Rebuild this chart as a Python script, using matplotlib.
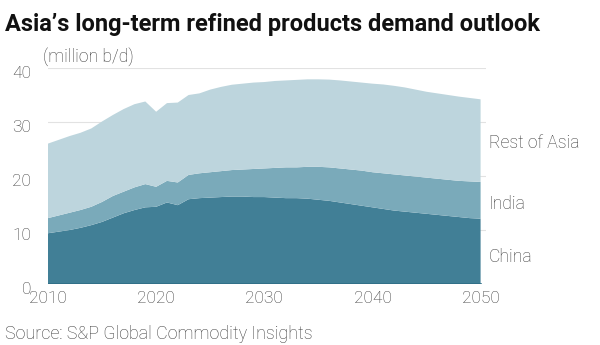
import matplotlib
matplotlib.use("Agg")
import matplotlib.pyplot as plt
import matplotlib.transforms as mtrans

years = list(range(2010, 2051))
china = [9.4, 9.7, 10.0, 10.4, 10.9, 11.5, 12.3, 13.1, 13.7, 14.2,
         14.3, 15.1, 14.6, 15.7, 15.9,
         16.0, 16.1, 16.2, 16.2, 16.1, 16.1, 16.0, 15.9, 15.9, 15.8,
         15.6, 15.4, 15.1, 14.8, 14.5, 14.2, 13.9, 13.6, 13.4, 13.2,
         13.0, 12.8, 12.6, 12.4, 12.2, 12.1]
india = [2.8, 3.0, 3.2, 3.3, 3.4, 3.7, 4.0, 4.0, 4.2, 4.3,
         3.7, 4.0, 4.2, 4.5, 4.6,
         4.7, 4.8, 4.9, 5.0, 5.2, 5.3, 5.5, 5.7, 5.7, 5.9,
         6.1, 6.2, 6.3, 6.4, 6.5, 6.5, 6.6, 6.7, 6.7, 6.7,
         6.7, 6.7, 6.7, 6.7, 6.8, 6.8]
rest_of_asia = [13.8, 14.0, 14.2, 14.3, 14.5, 14.9, 15.0, 15.3, 15.4, 15.3,
                13.9, 14.4, 14.8, 14.8, 14.8,
                15.3, 15.6, 15.8, 15.9, 16.0, 16.0, 16.1, 16.1, 16.2, 16.2,
                16.2, 16.25, 16.3, 16.3, 16.3, 16.4, 16.45, 16.4, 16.3, 16.1,
                15.9, 15.8, 15.7, 15.6, 15.45, 15.3]
series_names = ["China", "India", "Rest of Asia"]
x_ticks = [2010, 2020, 2030, 2040, 2050]
y_ticks = [0, 10, 20, 30, 40]

colors = ["#417f96", "#7aaaba", "#bdd5dd"]
txt = "#3a3a3a"
font = "Roboto"

fig = plt.figure(figsize=(6, 3.45), dpi=100)
ax = fig.add_axes([48 / 600, 1 - 284 / 345, (486 - 48) / 600, (284 - 68) / 345])

ax.stackplot(years, china, india, rest_of_asia, colors=colors, linewidth=0)
ax.axhline(0, color="#2e6e86", lw=1.2, xmax=(2050 - 2010) / (2050.5 - 2010), zorder=3)

ax.set_xlim(2010, 2050.5)
ax.set_ylim(0, 40)
ax.set_yticks(y_ticks)
ax.set_xticks(x_ticks)
for y in y_ticks[1:]:
    ax.axhline(y, color="#e2e2e2", lw=0.8, zorder=0)

for s in ax.spines.values():
    s.set_visible(False)
ax.tick_params(length=0, colors=txt, labelsize=12.5)
ax.tick_params(axis="x", pad=5)
ax.tick_params(axis="y", pad=12)
for lab in ax.get_xticklabels() + ax.get_yticklabels():
    lab.set_fontfamily(font)
    lab.set_fontweight("light")
offset = mtrans.ScaledTranslation(0, -3 / 72, fig.dpi_scale_trans)
for lab in ax.get_yticklabels():
    lab.set_transform(lab.get_transform() + offset)

# series labels at the right, placed within each layer at 2050
label_y = [china[-1] * 0.41,
           china[-1] + india[-1] * 0.4,
           china[-1] + india[-1] + rest_of_asia[-1] * 0.47]
for name, yv in zip(series_names, label_y):
    ax.text(2050.8, yv, name, fontsize=12.7, color=txt, va="center", ha="left",
            family=font, fontweight="light", clip_on=False)

fig.text(5 / 600, 1 - 25 / 345, "Asia\u2019s long-term refined products demand outlook",
         fontsize=17, fontweight="bold", color="#111111", family=font, va="center", ha="left")
fig.text(43 / 600, 1 - 57 / 345, "(million b/d)", fontsize=12.7, color=txt,
         family=font, fontweight="light", va="center", ha="left")
fig.text(5 / 600, 1 - 334 / 345, "Source: S&P Global Commodity Insights", fontsize=12.9,
         color=txt, family=font, fontweight="light", va="center", ha="left")

fig.savefig("out.png", dpi=100, facecolor="white")
